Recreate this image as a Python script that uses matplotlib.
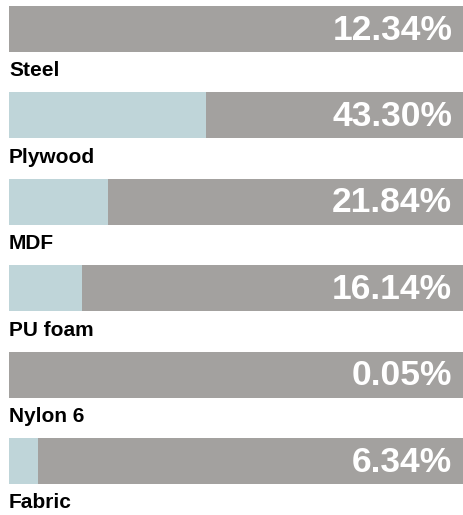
import matplotlib.pyplot as plt
import numpy as np

# Datos
materiales = ['Steel', 'Plywood', 'MDF', 'PU foam', 'Nylon 6', 'Fabric']
porcentajes = np.array([12.34, 43.30, 21.84, 16.14, 0.05, 6.34])
# parte coloreada de cada barra (la de Steel aparece vacía en la imagen)
relleno = np.array([0.0, 43.30, 21.84, 16.14, 0.05, 6.34])

gris = '#a3a19f'
azul = '#bfd5d9'

plt.rcParams['font.family'] = ['Liberation Sans', 'DejaVu Sans']

fig = plt.figure(figsize=(4.64, 5.15), dpi=100)
ax = fig.add_axes([0, 0, 1, 1])

paso = 86.4
alto = 46
tops = 6 + np.arange(len(materiales)) * paso
centros = tops + alto / 2

ax.barh(centros, 100, height=alto, left=0, color=gris)
ax.barh(centros, relleno, height=alto, left=0, color=azul)

for c, m, p in zip(centros, materiales, porcentajes):
    ax.text(97.4, c + 1, f'{p:.2f}%', ha='right', va='center', color='white',
            fontsize=25.5, fontweight='bold')
    ax.text(0, c + alto / 2 + 19, m, ha='left', va='center', color='black',
            fontsize=15, fontweight='bold')

ax.set_xlim(-9 / 455 * 100, 100)
ax.set_ylim(515, 0)
ax.axis('off')

fig.savefig('out.png', dpi=100)
